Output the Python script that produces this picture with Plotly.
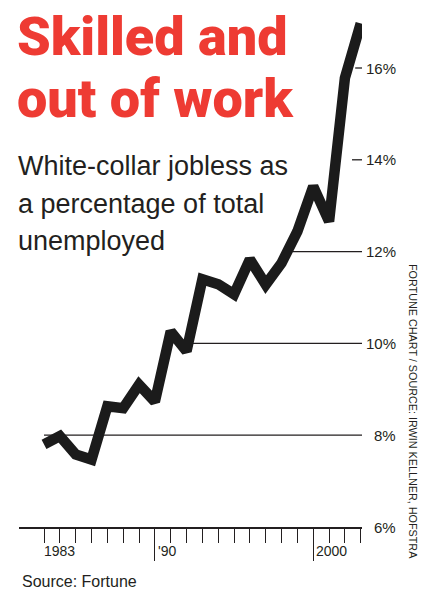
import plotly.graph_objects as go

# ---- data ----
years = list(range(1983, 2004))
share = [7.80, 7.98, 7.58, 7.47, 8.63, 8.59, 9.10, 8.73, 10.26, 9.83,
         11.40, 11.29, 11.07, 11.83, 11.28, 11.75, 12.44, 13.42, 12.66, 15.78, 16.97]
grid_levels = [8, 10, 12, 14, 16]
grid_start = [1983, 1992.4, 1998.7, 2002.45, 2002.65]
y_tick_vals = [6, 8, 10, 12, 14, 16]
y_tick_text = ["6%", "8%", "10%", "12%", "14%", "16%"]
x_label_vals = [1983, 1990, 2000]
x_label_text = ["1983", "'90", "2000"]
major_years = [1990, 2000]

W, H = 427, 601
L, R, T, B = 19, 65, 8, 74
PW, PH = W - L - R, H - T - B
XR = [1981.42, 2003.08]
YR = [6, 6 + PH / 45.9]


def px(x):
    return (x - L) / PW


def py(y):
    return (H - B - y) / PH


RED = "#EE3B33"
INK = "#231F20"
SANS = "Liberation Sans, Arial, sans-serif"
HEAVY = "Roboto, Liberation Sans, Arial, sans-serif"

fig = go.Figure()
fig.add_trace(go.Scatter(x=years, y=share, mode="lines",
                         line=dict(color="#1b1b1b", width=10.5),
                         cliponaxis=False, hoverinfo="skip", showlegend=False))

shapes = []
for lv, st in zip(grid_levels, grid_start):
    shapes.append(dict(type="line", xref="x", yref="y", x0=st, x1=XR[1], y0=lv, y1=lv,
                       line=dict(color=INK, width=1.3), layer="below"))

ann = []
# title
for i, line in enumerate(["Skilled and", "out of work"]):
    ann.append(dict(text=line, x=px(15), y=py(37 + 61 * i), xanchor="left", yanchor="middle",
                    font=dict(family=HEAVY, size=54, color=RED, weight=900)))
# subtitle
for i, line in enumerate(["White-collar jobless as", "a percentage of total", "unemployed"]):
    ann.append(dict(text=line, x=px(16), y=py(166 + 37.5 * i), xanchor="left", yanchor="middle",
                    font=dict(family=SANS, size=27, color=INK)))
# source
ann.append(dict(text="Source: Fortune", x=px(20), y=py(581), xanchor="left", yanchor="middle",
                font=dict(family=SANS, size=16, color=INK)))
# rotated credit
ann.append(dict(text="FORTUNE CHART / SOURCE: IRWIN KELLNER, HOFSTRA", x=px(413), y=py(412),
                xanchor="center", yanchor="middle", textangle=90,
                font=dict(family=SANS, size=10.8, color=INK)))
# y tick labels
for v, t in zip(y_tick_vals, y_tick_text):
    ann.append(dict(text=t, x=px(398), xref="paper", y=v, yref="y", xanchor="right", yanchor="middle",
                    font=dict(family=SANS, size=15, color=INK)))
# x labels
for v, t in zip(x_label_vals, x_label_text):
    ann.append(dict(text=t, x=v, xref="x", y=py(551), yref="paper", xanchor="left", yanchor="middle",
                    xshift=-2 if v == 1983 else 1,
                    font=dict(family=SANS, size=14, color=INK)))

for a in ann:
    a.setdefault("xref", "paper")
    a.setdefault("yref", "paper")
    a["showarrow"] = False

fig.update_layout(
    width=W, height=H, margin=dict(l=L, r=R, t=T, b=B),
    paper_bgcolor="white", plot_bgcolor="white",
    shapes=shapes, annotations=ann, showlegend=False,
    xaxis=dict(range=XR, showgrid=False, zeroline=False, showline=True, linecolor=INK, linewidth=1.5,
               ticks="outside", tickvals=major_years, ticklen=32, tickwidth=1.3, tickcolor=INK,
               showticklabels=False,
               minor=dict(tickmode="array", tickvals=years, ticks="outside", ticklen=14,
                          tickwidth=1.3, tickcolor=INK, showgrid=False)),
    yaxis=dict(range=YR, showgrid=False, zeroline=False, showline=False, showticklabels=False, ticks=""),
)

fig.write_html("out.html")
